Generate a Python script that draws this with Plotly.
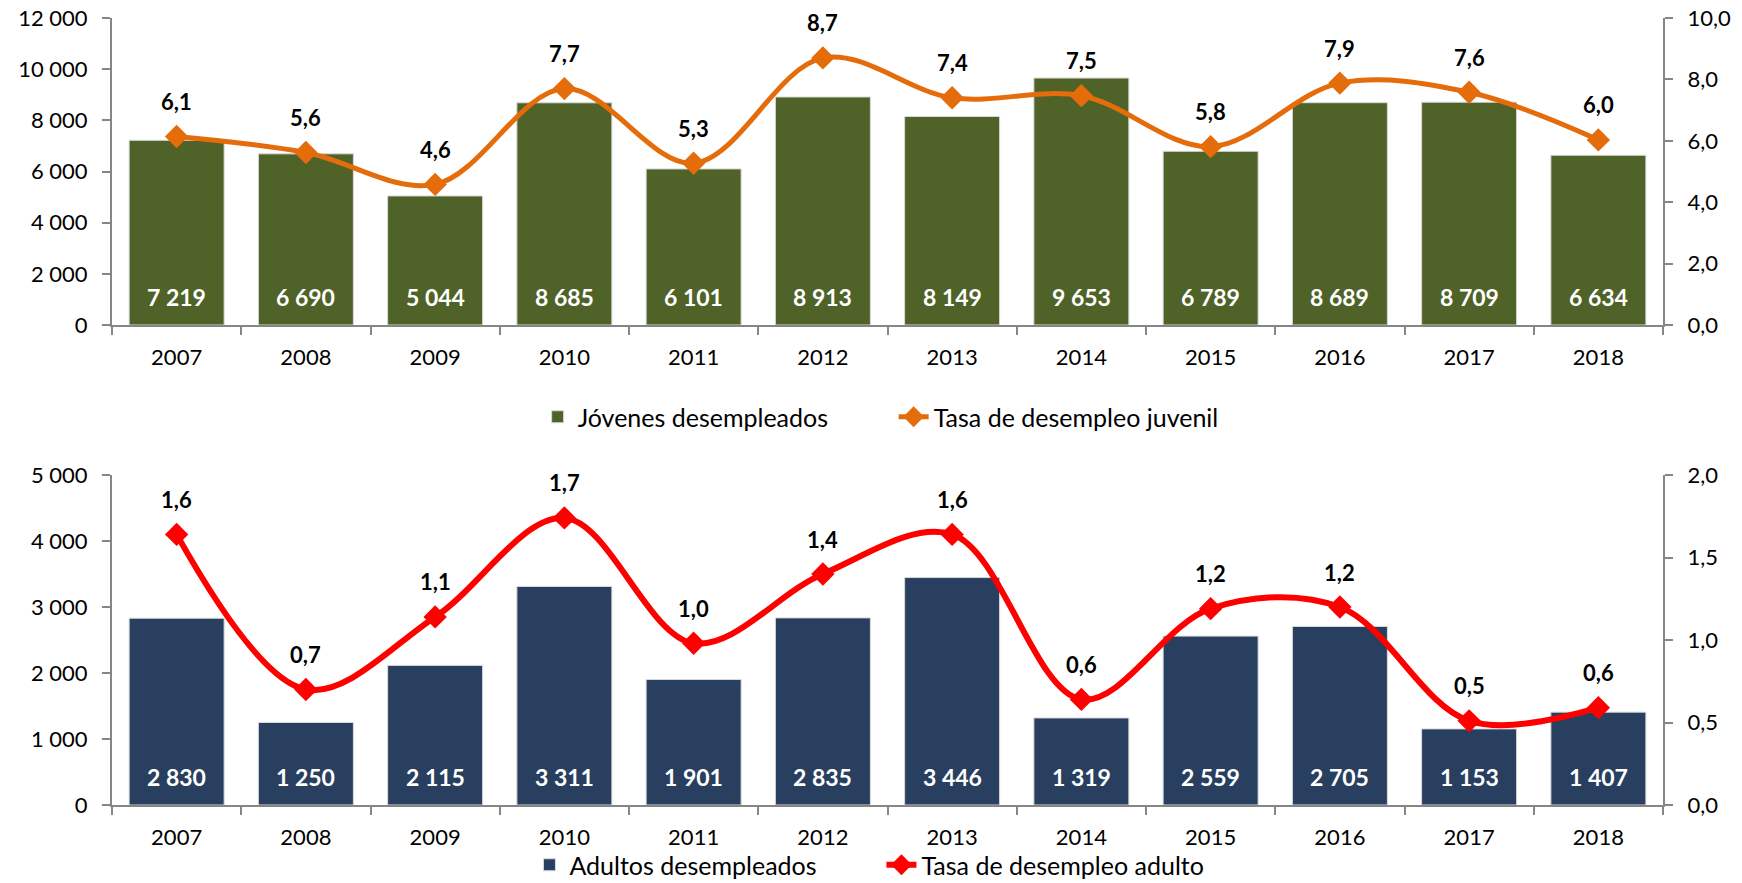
import plotly.graph_objects as go
from plotly.subplots import make_subplots

years = ["2007", "2008", "2009", "2010", "2011", "2012", "2013", "2014", "2015", "2016", "2017", "2018"]
jovenes = [7219, 6690, 5044, 8685, 6101, 8913, 8149, 9653, 6789, 8689, 8709, 6634]
tasa_juvenil = [6.14, 5.62, 4.58, 7.70, 5.27, 8.70, 7.40, 7.47, 5.81, 7.88, 7.58, 6.03]
adultos = [2830, 1250, 2115, 3311, 1901, 2835, 3446, 1319, 2559, 2705, 1153, 1407]
tasa_adulto = [1.64, 0.70, 1.14, 1.74, 0.98, 1.40, 1.64, 0.64, 1.19, 1.20, 0.51, 0.59]

FONT = "Lato"
GREEN = "#4F6228"
ORANGE = "#E46C0A"
NAVY = "#283F5F"
RED = "#FF0000"
AXIS = "#868686"

fig = make_subplots(rows=2, cols=1, specs=[[{"secondary_y": True}], [{"secondary_y": True}]])

fig.add_trace(go.Bar(x=years, y=jovenes, name="Jóvenes desempleados", marker_color=GREEN,
                     marker_line=dict(color="#D9D9D9", width=1), legend="legend",
                     hoverinfo="skip"), row=1, col=1, secondary_y=False)
fig.add_trace(go.Scatter(x=years, y=tasa_juvenil, name="Tasa de desempleo juvenil", mode="lines+markers",
                         line=dict(color=ORANGE, width=5, shape="spline", smoothing=1.0),
                         marker=dict(symbol="diamond", size=18, color=ORANGE), legend="legend"),
              row=1, col=1, secondary_y=True)
fig.add_trace(go.Bar(x=years, y=adultos, name="Adultos desempleados", marker_color=NAVY,
                     marker_line=dict(color="#D9D9D9", width=1), legend="legend2",
                     hoverinfo="skip"), row=2, col=1, secondary_y=False)
fig.add_trace(go.Scatter(x=years, y=tasa_adulto, name="Tasa de desempleo adulto", mode="lines+markers",
                         line=dict(color=RED, width=6, shape="spline", smoothing=1.0),
                         marker=dict(symbol="diamond", size=18, color=RED), legend="legend2"),
              row=2, col=1, secondary_y=True)

annotations = []
for xr, yr, vals in (("x", "y", jovenes), ("x2", "y3", adultos)):
    for i, v in enumerate(vals):
        annotations.append(dict(x=i, y=0, xref=xr, yref=yr, yshift=28, showarrow=False,
                                text=f"{v:,}".replace(",", " "),
                                font=dict(family=FONT, size=23, color="white", weight="bold")))
for xr, yr, vals in (("x", "y2", tasa_juvenil), ("x2", "y4", tasa_adulto)):
    for i, v in enumerate(vals):
        annotations.append(dict(x=i, y=v, xref=xr, yref=yr, yshift=35, showarrow=False,
                                text=f"{v:.1f}".replace(".", ","),
                                font=dict(family=FONT, size=22, color="black", weight="bold")))

xdom = [112 / 1742, 1663 / 1742]
top_dom = [1 - 325 / 883, 1 - 18 / 883]
bot_dom = [1 - 805 / 883, 1 - 475 / 883]

common_axis = dict(showline=True, linecolor=AXIS, linewidth=2, ticks="outside", tickcolor=AXIS,
                   ticklen=8, tickwidth=2, showgrid=False, zeroline=False, automargin=False,
                   tickfont=dict(family=FONT, size=22, color="black"))
xr_range = [-0.5, len(years) - 0.5]

fig.update_layout(
    width=1742, height=883, margin=dict(l=0, r=0, t=0, b=0, autoexpand=False),
    paper_bgcolor="white", plot_bgcolor="white",
    separators=", ", bargap=0.265,
    font=dict(family=FONT, size=22, color="black"),
    annotations=annotations,
    xaxis=dict(domain=xdom, type="category", range=xr_range, autorange=False, tickangle=0,
               tickson="boundaries", ticklabelstandoff=12, **common_axis),
    xaxis2=dict(domain=xdom, type="category", range=xr_range, autorange=False, tickangle=0,
                tickson="boundaries", ticklabelstandoff=12, **common_axis),
    yaxis=dict(domain=top_dom, range=[0, 12000], dtick=2000, tickformat=",d", ticklabelstandoff=10, **common_axis),
    yaxis2=dict(range=[0, 10], dtick=2, tickformat=".1f", ticklabelstandoff=10, **common_axis),
    yaxis3=dict(domain=bot_dom, range=[0, 5000], dtick=1000, tickformat=",d", ticklabelstandoff=10, **common_axis),
    yaxis4=dict(range=[0, 2], dtick=0.5, tickformat=".1f", ticklabelstandoff=10, **common_axis),
    legend=dict(orientation="h", x=0.513, xanchor="center", y=1 - 417 / 883, yanchor="middle",
                entrywidth=311, font=dict(family=FONT, size=25, color="black"), bgcolor="rgba(0,0,0,0)"),
    legend2=dict(orientation="h", x=0.506, xanchor="center", y=1 - 865 / 883, yanchor="middle",
                 entrywidth=307, font=dict(family=FONT, size=25, color="black"), bgcolor="rgba(0,0,0,0)"),
    showlegend=True,
)

post = ("var s=document.createElement('style');"
        "s.innerHTML='html,body{margin:0;padding:0;overflow:hidden;height:883px;width:1742px;}';"
        "document.head.appendChild(s);")

fig.write_html("out.html", config={"displayModeBar": False}, post_script=post)
